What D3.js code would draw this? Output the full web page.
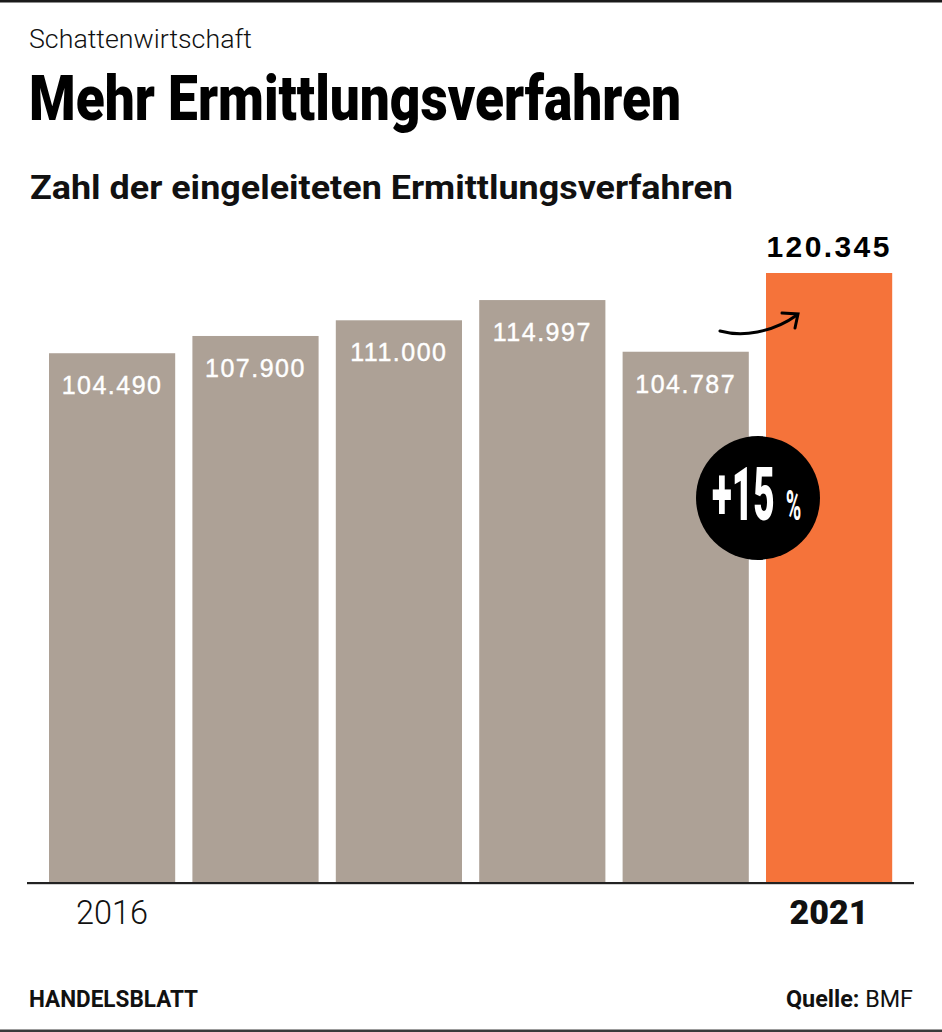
<!DOCTYPE html>
<html>
<head>
<meta charset="utf-8">
<script src="https://cdn.jsdelivr.net/npm/d3@7"></script>
<style>
  html, body { margin: 0; padding: 0; background: #fff; }
  svg { display: block; }
</style>
</head>
<body>
<script>
// ---- data ----
const years = ["2016", "2017", "2018", "2019", "2020", "2021"];
const values = [104490, 107900, 111000, 114997, 104787, 120345];
const valueLabels = ["104.490", "107.900", "111.000", "114.997", "104.787", "120.345"];
const tickLabels = ["2016", "", "", "", "", "2021"];
const changeLabel = "+15";
const changeUnit = "%";

const W = 942, H = 1032;
const grey = "#ada196", orange = "#f5733a";

const svg = d3.select("body").append("svg").attr("width", W).attr("height", H);

// frame lines
svg.append("rect").attr("x", 0).attr("y", 0).attr("width", W).attr("height", 2.5).attr("fill", "#1a1a1a");
svg.append("rect").attr("x", 0).attr("y", 1029.5).attr("width", W).attr("height", 2.5).attr("fill", "#3a3a3a");

// headings
svg.append("text").attr("x", 29).attr("y", 48)
  .attr("font-family", "Roboto").attr("font-weight", 300).attr("font-size", 25)
  .attr("textLength", 223).attr("lengthAdjust", "spacingAndGlyphs")
  .attr("fill", "#111").text("Schattenwirtschaft");

svg.append("text").attr("x", 29).attr("y", 120)
  .attr("font-family", "Roboto").attr("font-weight", 900).attr("font-size", 63)
  .attr("textLength", 652).attr("lengthAdjust", "spacingAndGlyphs")
  .attr("fill", "#000").text("Mehr Ermittlungsverfahren");

svg.append("text").attr("x", 30).attr("y", 199)
  .attr("font-family", "Roboto").attr("font-weight", 700).attr("font-size", 33)
  .attr("textLength", 703).attr("lengthAdjust", "spacingAndGlyphs")
  .attr("fill", "#111").text("Zahl der eingeleiteten Ermittlungsverfahren");

// scales
const x = d3.scaleBand().domain(years).range([40.4, 900.8]).paddingInner(0.12).paddingOuter(0.06);
const y = d3.scaleLinear().domain([0, d3.max(values)]).range([882, 273]);

const data = years.map((yr, i) => ({ yr, v: values[i], lab: valueLabels[i], i }));
const last = years.length - 1;

// bars
svg.append("g").selectAll("rect").data(data).join("rect")
  .attr("x", d => x(d.yr)).attr("width", x.bandwidth())
  .attr("y", d => y(d.v)).attr("height", d => y(0) - y(d.v))
  .attr("fill", d => d.i === last ? orange : grey);

// value labels
svg.append("g").selectAll("text").data(data).join("text")
  .attr("x", d => x(d.yr) + x.bandwidth() / 2)
  .attr("y", d => d.i === last ? y(d.v) - 16 : y(d.v) + 41)
  .attr("text-anchor", "middle")
  .attr("font-family", "Liberation Sans, Arial, sans-serif")
  .attr("font-weight", d => d.i === last ? 700 : 400)
  .attr("font-size", d => d.i === last ? 30 : 25)
  .attr("letter-spacing", d => d.i === last ? 2.4 : 1.5)
  .attr("stroke", d => d.i === last ? "none" : "#fff")
  .attr("stroke-width", 0.4)
  .attr("fill", d => d.i === last ? "#000" : "#fff")
  .text(d => d.lab);

// baseline
svg.append("rect").attr("x", 27).attr("width", 887).attr("y", y(0)).attr("height", 2.2).attr("fill", "#222");

// axis tick labels
const axis = d3.axisBottom(x).tickSize(0).tickFormat((d, i) => tickLabels[i]);
const gAx = svg.append("g").attr("transform", `translate(0,${y(0)})`).call(axis);
gAx.select(".domain").remove();
gAx.selectAll(".tick text")
  .attr("y", 42).attr("dy", 0)
  .attr("font-family", "Roboto")
  .attr("font-size", 34)
  .attr("font-weight", (d, i) => i === last ? 900 : 300)
  .attr("textLength", (d, i) => i === last ? 79 : 72)
  .attr("lengthAdjust", "spacingAndGlyphs")
  .attr("fill", "#111");

// arrow
const arrow = svg.append("g").attr("fill", "none").attr("stroke", "#000").attr("stroke-width", 3).attr("stroke-linecap", "round");
arrow.append("path").attr("d", "M720,331 C742,337 772,333 797,315");
arrow.append("path").attr("d", "M782,313 L798,314 L795,328");

// change badge
svg.append("circle").attr("cx", 758).attr("cy", 498).attr("r", 62).attr("fill", "#000");
const badge = svg.append("text")
  .attr("transform", "translate(712,520) scale(0.5,1)")
  .attr("font-family", "Roboto").attr("font-weight", 900)
  .attr("fill", "#fff");
badge.append("tspan").attr("font-size", 74).text(changeLabel);
badge.append("tspan").attr("font-size", 42).attr("font-weight", 700).attr("dx", 22).text(changeUnit);

// footer
svg.append("text").attr("x", 29).attr("y", 1007)
  .attr("font-family", "Roboto").attr("font-weight", 700).attr("font-size", 23)
  .attr("textLength", 169).attr("lengthAdjust", "spacingAndGlyphs")
  .attr("fill", "#111").text("HANDELSBLATT");

const src = svg.append("text").attr("x", 786).attr("y", 1007)
  .attr("font-family", "Roboto").attr("font-size", 23)
  .attr("textLength", 127).attr("lengthAdjust", "spacingAndGlyphs")
  .attr("fill", "#111");
src.append("tspan").attr("font-weight", 700).text("Quelle:");
src.append("tspan").attr("font-weight", 400).text(" BMF");
</script>
</body>
</html>
